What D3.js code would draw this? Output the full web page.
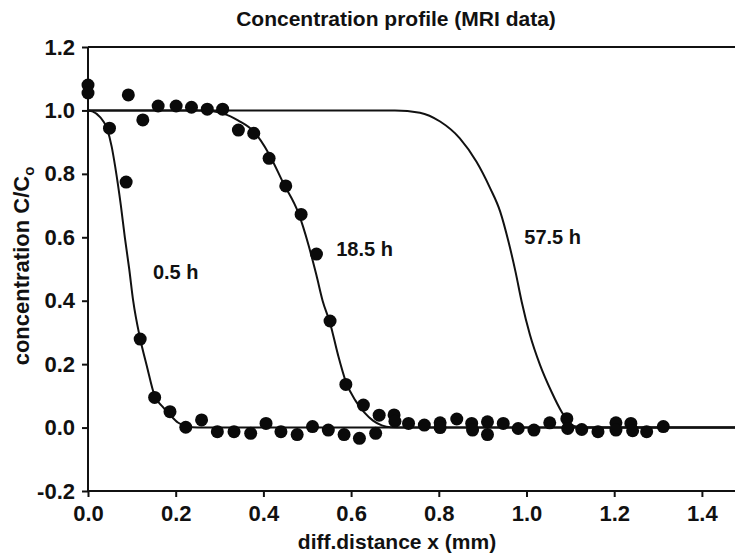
<!DOCTYPE html>
<html lang="en">
  <head>
    <meta charset="UTF-8" />
    <title>Concentration profile (MRI data)</title>
    <script src="https://d3js.org/d3.v7.min.js"></script>
    <style>
      body {
        margin: 0;
        padding: 0;
        background-color: #ffffff;
      }
      svg text {
        font-family: "Liberation Sans", Arial, sans-serif;
        font-weight: bold;
        fill: #111;
      }
    </style>
  </head>
  <body>
    <div id="chart"></div>

    <script>
      const width = 735;
      const height = 553;

      // tick labels
      const xTicks = [0, 0.2, 0.4, 0.6, 0.8, 1.0, 1.2, 1.4];
      const yTicks = [-0.2, 0, 0.2, 0.4, 0.6, 0.8, 1.0, 1.2];

      // measured MRI points [x (mm), C/Co]
      const mriX = [
        0, 0, 0.049, 0.087, 0.092, 0.119, 0.125, 0.152, 0.16, 0.187, 0.201,
        0.223, 0.236, 0.259, 0.272, 0.295, 0.307, 0.333, 0.343, 0.371, 0.378,
        0.406, 0.413, 0.44, 0.451, 0.477, 0.486, 0.512, 0.521, 0.548, 0.552,
        0.584, 0.588, 0.619, 0.628, 0.656, 0.664, 0.698, 0.7, 0.731, 0.767,
        0.803, 0.803, 0.841, 0.875, 0.877, 0.911, 0.911, 0.947, 0.981, 1.017,
        1.053, 1.092, 1.094, 1.126, 1.163, 1.204, 1.204, 1.238, 1.242, 1.274,
        1.312,
      ];
      const mriC = [
        1.08, 1.055, 0.944, 0.774, 1.049, 0.279, 0.97, 0.095, 1.014, 0.05,
        1.014, 0.001, 1.01, 0.024, 1.004, -0.013, 1.004, -0.013, 0.938,
        -0.018, 0.928, 0.013, 0.849, -0.013, 0.762, -0.022, 0.672, 0.003,
        0.547, -0.008, 0.336, -0.022, 0.136, -0.034, 0.071, -0.018, 0.039,
        0.04, 0.02, 0.013, 0.008, 0.015, 0.0, 0.027, 0.013, -0.008, 0.018,
        -0.022, 0.013, -0.003, -0.008, 0.015, 0.028, -0.003, -0.006, -0.013,
        0.015, -0.008, 0.013, -0.01, -0.013, 0.003,
      ];

      // model curves
      const curve05X = [0, 0.01, 0.027, 0.043, 0.054, 0.062, 0.075, 0.084, 0.094, 0.103, 0.119, 0.134, 0.152, 0.17, 0.187, 0.205, 0.225, 0.25, 0.3, 1.5];
      const curve05C = [1.0, 0.997, 0.98, 0.944, 0.886, 0.823, 0.7, 0.6, 0.5, 0.4, 0.28, 0.195, 0.1, 0.066, 0.04, 0.016, 0.004, 0.0, 0.0, 0.0];

      const curve185X = [0, 0.25, 0.285, 0.309, 0.343, 0.377, 0.413, 0.445, 0.48, 0.503, 0.521, 0.535, 0.552, 0.57, 0.588, 0.61, 0.63, 0.65, 0.67, 0.69, 0.72, 1.5];
      const curve185C = [1.0, 1.0, 0.997, 0.99, 0.968, 0.935, 0.862, 0.772, 0.676, 0.575, 0.48, 0.4, 0.33, 0.23, 0.145, 0.085, 0.048, 0.022, 0.007, 0.001, 0.0, 0.0];

      const curve575X = [0, 0.7, 0.757, 0.803, 0.848, 0.886, 0.917, 0.94, 0.959, 0.975, 0.989, 1.008, 1.031, 1.057, 1.08, 1.095, 1.11, 1.14, 1.5];
      const curve575C = [1.0, 1.0, 0.993, 0.965, 0.912, 0.838, 0.755, 0.681, 0.586, 0.491, 0.397, 0.292, 0.197, 0.113, 0.05, 0.02, 0.004, 0.0, 0.0];

      const curveLabels = ["0.5 h", "18.5 h", "57.5 h"];
      const labelX = [0.148, 0.566, 0.995];
      const labelC = [0.47, 0.54, 0.58];

      const x = d3.scaleLinear().domain([0, 1.5]).range([88, 745.75]);
      const y = d3.scaleLinear().domain([-0.2, 1.2]).range([491, 47]);

      const fmt = (d) => d3.format(".1f")(d).replace("\u2212", "-");

      const svg = d3
        .select("#chart")
        .append("svg")
        .attr("width", width)
        .attr("height", height);

      // title
      svg
        .append("text")
        .attr("x", 396)
        .attr("y", 26)
        .attr("text-anchor", "middle")
        .attr("font-size", "21px")
        .text("Concentration profile (MRI data)");

      // frame top line
      svg
        .append("line")
        .attr("x1", x(0))
        .attr("x2", x(1.5))
        .attr("y1", y(1.2))
        .attr("y2", y(1.2))
        .attr("stroke", "#111")
        .attr("stroke-width", 2);

      // axes
      const xAxis = svg
        .append("g")
        .attr("transform", `translate(0,${y(-0.2)})`)
        .call(
          d3
            .axisBottom(x)
            .tickValues(xTicks)
            .tickFormat(fmt)
            .tickSize(6)
            .tickPadding(8)
        );

      const yAxis = svg
        .append("g")
        .attr("transform", `translate(${x(0)},0)`)
        .call(
          d3
            .axisLeft(y)
            .tickValues(yTicks)
            .tickFormat(fmt)
            .tickSize(6)
            .tickPadding(7)
        );

      [xAxis, yAxis].forEach((g) => {
        g.select(".domain").attr("stroke", "#111").attr("stroke-width", 2);
        g.selectAll(".tick line").attr("stroke", "#111").attr("stroke-width", 2);
        g.selectAll(".tick text")
          .attr("font-size", "22px")
          .attr("font-family", null)
          .attr("fill", "#111");
      });
      // plain axis lines without outer ticks
      yAxis.select(".domain").attr("d", `M0,${y(1.2)}V${y(-0.2)}`);
      xAxis.select(".domain").attr("d", `M${x(0)},0H${x(1.5)}`);
      xAxis.selectAll(".tick text").attr("dy", "0.71em");

      // axis titles
      svg
        .append("text")
        .attr("x", 397)
        .attr("y", 549)
        .attr("text-anchor", "middle")
        .attr("font-size", "21px")
        .text("diff.distance x (mm)");

      const yTitle = svg
        .append("text")
        .attr("transform", "translate(29,266) rotate(-90)")
        .attr("text-anchor", "middle")
        .attr("font-size", "22px");
      yTitle.append("tspan").text("concentration C/C");
      yTitle
        .append("tspan")
        .attr("font-size", "15px")
        .attr("dy", "5")
        .text("o");

      // curves
      const line = d3
        .line()
        .x((d) => x(d[0]))
        .y((d) => y(d[1]))
        .curve(d3.curveMonotoneX);

      const curves = [
        d3.zip(curve05X, curve05C),
        d3.zip(curve185X, curve185C),
        d3.zip(curve575X, curve575C),
      ];

      svg
        .selectAll("path.fit")
        .data(curves)
        .enter()
        .append("path")
        .attr("class", "fit")
        .attr("d", line)
        .attr("fill", "none")
        .attr("stroke", "#111")
        .attr("stroke-width", 2);

      // measured points
      svg
        .selectAll("circle.pt")
        .data(d3.zip(mriX, mriC))
        .enter()
        .append("circle")
        .attr("class", "pt")
        .attr("cx", (d) => x(d[0]))
        .attr("cy", (d) => y(d[1]))
        .attr("r", 6.5)
        .attr("fill", "#0a0a0a");

      // curve labels
      svg
        .selectAll("text.lbl")
        .data(curveLabels)
        .enter()
        .append("text")
        .attr("class", "lbl")
        .attr("x", (d, i) => x(labelX[i]))
        .attr("y", (d, i) => y(labelC[i]))
        .attr("font-size", "20px")
        .text((d) => d);
    </script>
  </body>
</html>
